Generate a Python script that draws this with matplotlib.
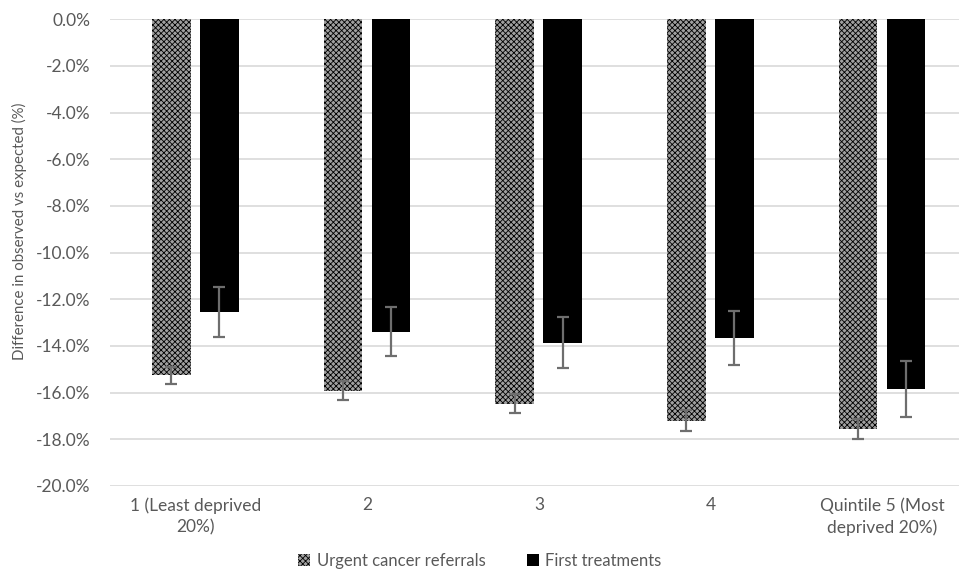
import matplotlib
matplotlib.use("Agg")
import matplotlib.pyplot as plt
import numpy as np
from matplotlib.ticker import FuncFormatter, MultipleLocator

categories = ["1 (Least deprived\n20%)", "2", "3", "4", "Quintile 5 (Most\ndeprived 20%)"]
urgent = [-15.26, -15.92, -16.47, -17.20, -17.55]
urgent_err = [0.37, 0.40, 0.40, 0.45, 0.43]
first = [-12.56, -13.38, -13.86, -13.64, -15.85]
first_err = [1.07, 1.04, 1.10, 1.16, 1.20]
series_names = ["Urgent cancer referrals", "First treatments"]

plt.rcParams['font.family'] = ['Lato', 'DejaVu Sans']
plt.rcParams['hatch.linewidth'] = 0.6
txt = '#595959'

fig = plt.figure(figsize=(9.59, 5.81), dpi=100)
ax = fig.add_axes([110/959, 1-486/581, 858/959, (486-19.3)/581])

x = np.arange(len(categories))
w = 0.225
ekw = dict(ecolor='#6e6e6e', elinewidth=1.6, capsize=4, capthick=1.6)
ax.bar(x - 0.142, urgent, w, color='#a0a0a0', hatch='xxxxxx', edgecolor='black',
       linewidth=0, yerr=urgent_err, error_kw=ekw, label=series_names[0], zorder=2)
ax.bar(x + 0.138, first, w, color='black', edgecolor='black', linewidth=0,
       yerr=first_err, error_kw=ekw, label=series_names[1], zorder=2)

ax.set_xlim(-0.5, len(categories) - 0.5)
ax.set_ylim(-20, 0)
ax.yaxis.set_major_locator(MultipleLocator(2))
ax.yaxis.set_major_formatter(FuncFormatter(lambda v, p: f"{v:.1f}%"))
ax.grid(axis='y', color='#d9d9d9', linewidth=1.2, zorder=0)
ax.set_axisbelow(True)
for s in ax.spines.values():
    s.set_visible(False)
ax.tick_params(axis='both', length=0, colors=txt, labelsize=12.5)
ax.tick_params(axis='y', pad=14)
ax.tick_params(axis='x', pad=8)
ax.set_xticks(x)
ax.set_xticklabels(categories, color=txt, linespacing=1.45)
fig.text(19/959, 1-231/581, "Difference in observed vs expected (%)", color=txt,
         fontsize=10.8, rotation=90, ha='center', va='center')

leg = fig.legend(loc='center', bbox_to_anchor=(480/959, 1-561/581), ncol=2, frameon=False,
                 fontsize=12, handlelength=0.7, handleheight=0.7, columnspacing=2.5,
                 handletextpad=0.4, labelcolor=txt)

fig.savefig("out.png", dpi=100)
